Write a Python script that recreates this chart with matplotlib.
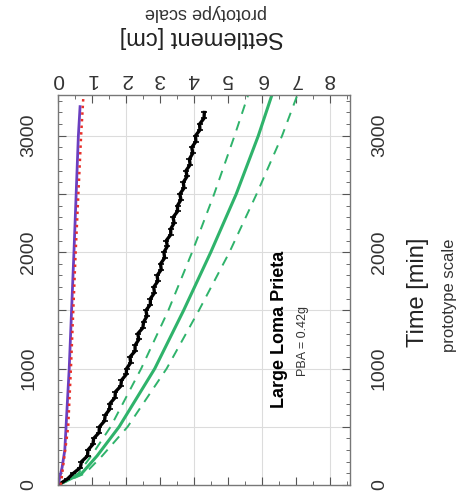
import matplotlib
matplotlib.use("Agg")
import matplotlib.pyplot as plt
from matplotlib.ticker import MultipleLocator, FuncFormatter

plt.rcParams['font.family'] = ['Liberation Sans', 'DejaVu Sans']

# measured settlement (black), time in min, settlement in cm
meas_t = [0, 50, 100, 150, 200, 250, 300, 350, 400, 450, 500, 550, 600, 650,
          700, 750, 800, 850, 900, 950, 1000, 1050, 1100, 1150, 1200, 1250,
          1300, 1350, 1400, 1450, 1500, 1550, 1600, 1650, 1700, 1750, 1800,
          1850, 1900, 1950, 2000, 2050, 2100, 2150, 2200, 2250, 2300, 2350,
          2400, 2450, 2500, 2550, 2600, 2650, 2700, 2750, 2800, 2850, 2900,
          2950, 3000, 3050, 3100, 3150, 3200]
meas_s = [0, 0.27, 0.45, 0.66, 0.69, 0.87, 0.88, 1.03, 1.05, 1.21, 1.22, 1.37,
          1.39, 1.52, 1.53, 1.68, 1.69, 1.85, 1.87, 2.01, 2.02, 2.14, 2.12,
          2.27, 2.27, 2.38, 2.35, 2.5, 2.52, 2.62, 2.59, 2.72, 2.72, 2.84,
          2.82, 2.94, 2.92, 3.04, 3.02, 3.14, 3.12, 3.22, 3.19, 3.32, 3.32,
          3.42, 3.39, 3.52, 3.52, 3.62, 3.59, 3.71, 3.69, 3.8, 3.77, 3.89,
          3.87, 3.97, 3.94, 4.06, 4.05, 4.18, 4.17, 4.3, 4.31]

# predicted (green) with bounds
pred_t = [0, 100, 250, 500, 1000, 1500, 2000, 2500, 3000, 3350]
pred_s = [0, 0.7, 1.15, 1.8, 2.85, 3.7, 4.5, 5.25, 5.9, 6.3]
pred_lo = [0, 0.6, 0.98, 1.55, 2.45, 3.25, 3.95, 4.6, 5.2, 5.6]
pred_hi = [0, 0.8, 1.3, 2.05, 3.2, 4.15, 5.05, 5.85, 6.6, 7.05]

# small settlements
red_t = [0, 500, 1000, 1500, 2000, 2500, 3000, 3350]
red_s = [0.08, 0.3, 0.38, 0.45, 0.52, 0.6, 0.68, 0.75]
pur_t = [0, 150, 300, 1000, 2000, 3000, 3250]
pur_s = [0, 0.12, 0.2, 0.33, 0.47, 0.6, 0.65]

grid_s = [2, 4, 6, 8]
grid_t = [500, 1000, 1500, 2000, 2500, 3000]

fig = plt.figure(figsize=(4.66, 5.0), dpi=100)
ax = fig.add_axes([58/466, 15/500, 292/466, 390/500])

for g in grid_s:
    ax.axvline(g, color='#dcdcdc', lw=0.8, zorder=0)
for g in grid_t:
    ax.axhline(g, color='#dcdcdc', lw=0.8, zorder=0)

ax.plot(pred_lo, pred_t, color='#2fb36b', lw=1.4, ls=(0, (5, 4)))
ax.plot(pred_hi, pred_t, color='#2fb36b', lw=1.4, ls=(0, (5, 4)))
ax.plot(pred_s, pred_t, color='#2fb36b', lw=2.2)
ax.plot(meas_s, meas_t, color='black', lw=2.4, marker='_', ms=4, mew=1.2)
ax.plot(pur_s, pur_t, color='#6b3fc0', lw=2.0)
ax.plot(red_s, red_t, color='#e8302a', lw=1.8, ls=':')

ax.set_xlim(0, 8.6)
ax.set_ylim(0, 3350)

ax.xaxis.tick_top()
ax.xaxis.set_major_locator(MultipleLocator(1))
ax.xaxis.set_minor_locator(MultipleLocator(0.5))
ax.yaxis.set_major_locator(MultipleLocator(500))
ax.yaxis.set_minor_locator(MultipleLocator(100))
ax.yaxis.set_major_formatter(FuncFormatter(lambda v, p: '%d' % v if v % 1000 == 0 else ''))

ax.tick_params(axis='both', which='both', direction='in', colors='#555555',
               top=True, bottom=True, left=True, right=True)
ax.tick_params(axis='both', which='major', length=6)
ax.tick_params(axis='both', which='minor', length=3)
ax.tick_params(axis='x', labelsize=15, labelcolor='#333333', labelrotation=180, pad=4)
ax.tick_params(axis='y', labelsize=14, labelcolor='#333333', labelrotation=90,
               labelleft=True, labelright=True, pad=15)
for lab in ax.get_yticklabels():
    lab.set_va('center')

for sp in ax.spines.values():
    sp.set_color('#777777')
    sp.set_linewidth(1.0)

ax.text(0.76, 0.40, 'Large Loma Prieta', transform=ax.transAxes, rotation=90,
        ha='center', va='center', fontsize=13, fontweight='bold')
ax.text(0.84, 0.37, 'PBA = 0.42g', transform=ax.transAxes, rotation=90,
        ha='center', va='center', fontsize=9, color='#333333')

fig.text(0.434, 0.926, 'Settlement [cm]', rotation=180, ha='center', va='center',
         fontsize=17, color='#222222')
fig.text(0.442, 0.974, 'prototype scale', rotation=180, ha='center', va='center',
         fontsize=13, color='#333333')
fig.text(0.897, 0.416, 'Time [min]', rotation=90, ha='center', va='center',
         fontsize=17, color='#222222')
fig.text(0.965, 0.41, 'prototype scale', rotation=90, ha='center', va='center',
         fontsize=12, color='#333333')

fig.savefig('out.png', dpi=100)
